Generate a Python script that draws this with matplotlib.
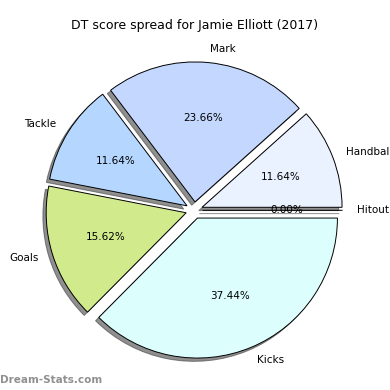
import matplotlib
matplotlib.use("Agg")
import matplotlib.pyplot as plt

labels = ["Handball", "Mark", "Tackle", "Goals", "Kicks", "Hitout"]
values = [11.64, 23.66, 11.64, 15.62, 37.44, 0.0]
colors = ["#eaf1ff", "#c4d8ff", "#b4d6ff", "#d0ea8c", "#dcfffe", "#ffffff"]
explode = [0.06] * len(values)
title = "DT score spread for Jamie Elliott (2017)"
watermark = "Dream-Stats.com"

fig = plt.figure(figsize=(3.9, 3.9), dpi=100)
size = 350 / 390
ax = fig.add_axes([19.2 / 390, 4.7 / 390, size, size])
wedges, texts, autotexts = ax.pie(
    values, labels=labels, colors=colors, explode=explode,
    shadow={"ox": -0.017, "oy": -0.017, "facecolor": "0.2",
            "edgecolor": "0.2", "alpha": 0.55},
    autopct="%1.2f%%", startangle=0, counterclock=True,
    wedgeprops=dict(edgecolor="black", linewidth=0.7),
    textprops=dict(fontsize=7.5),
)
ax.set_xlim(-1.25, 1.25)
ax.set_ylim(-1.25, 1.25)
ax.set_aspect("equal")
fig.text(0.5, 1 - 25 / 390, title, ha="center", va="center", fontsize=9)
fig.text(0.0, 1 - 380 / 390, watermark, ha="left", va="center",
         fontsize=7.5, color="#909090", fontweight="bold")
fig.savefig("out.png", dpi=100)
